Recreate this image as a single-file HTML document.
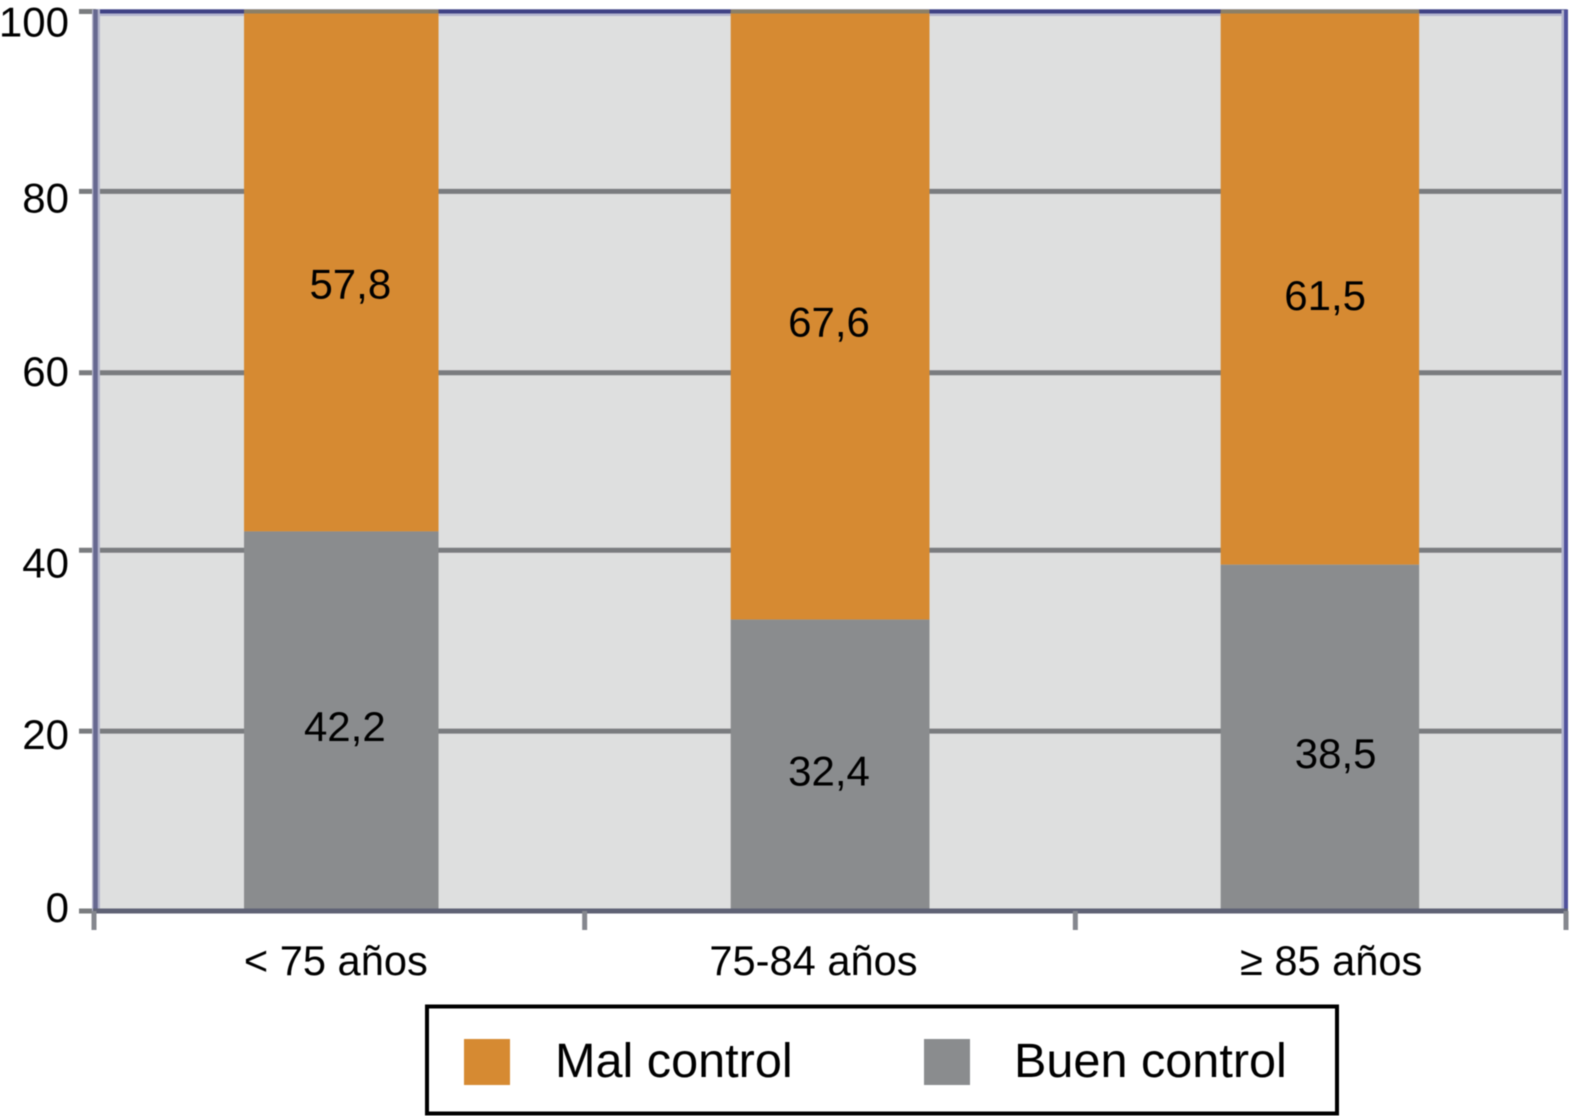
<!DOCTYPE html>
<html lang="es">
<head>
<meta charset="utf-8">
<title>Control por grupo de edad</title>
<style>
  html, body { margin: 0; padding: 0; background: #fff; }
  #chart { display: block; width: 1577px; height: 1116px; font-family: "Liberation Sans", sans-serif; filter: blur(0.45px); }
  text { fill: #000; }
</style>
</head>
<body>
<svg id="chart" xmlns="http://www.w3.org/2000/svg" width="1577" height="1116" viewBox="0 0 1577 1116">
  <rect x="96" y="11.5" width="1470" height="899.5" fill="#dedfdf"></rect>
  <g id="grid"></g>
  <g id="frame">
    <line x1="96" x2="1567" y1="12.5" y2="12.5" stroke="#b4b6cf" stroke-width="7"></line>
    <line x1="96" x2="1568" y1="11.5" y2="11.5" stroke="#3f4285" stroke-width="4"></line>
    <line x1="1564.5" x2="1564.5" y1="10" y2="911" stroke="#b4b6cf" stroke-width="6"></line>
    <line x1="1566" x2="1566" y1="10" y2="911" stroke="#50529c" stroke-width="4"></line>
  </g>
  <g id="bars"></g>
  <g id="axes"></g>
  <g id="labels"></g>
  <g>
    <rect x="427" y="1006.5" width="910" height="107" fill="#fff" stroke="#000" stroke-width="4"></rect>
    <rect x="464" y="1039" width="46" height="46" fill="#d68a32"></rect>
    <text x="555" y="1077" font-size="48.6">Mal control</text>
    <rect x="924" y="1039" width="46" height="46" fill="#8a8c8e"></rect>
    <text x="1014" y="1077" font-size="48.6">Buen control</text>
  </g>
</svg>
<script>
const categories = ['< 75 años', '75-84 años', '≥ 85 años'];
const buenControl = [42.2, 32.4, 38.5];
const malControl = [57.8, 67.6, 61.5];
const printedBuen = ['42,2', '32,4', '38,5'];
const printedMal = ['57,8', '67,6', '61,5'];
const yTicks = [0, 20, 40, 60, 80, 100];

const SVG_NS = 'http://www.w3.org/2000/svg';
const plot = { left: 96, right: 1565, top: 11.5, bottom: 911, yMax: 100 };
const barWidth = 198;
const bandStep = (plot.right - plot.left) / categories.length;
const COLORS = { mal: '#d68a32', buen: '#8a8c8e', grid: '#7a7c7f', axis: '#5f6275', tick: '#85878e', cap: '#8c7f66' };

function yScale(v) { return plot.bottom - (v / plot.yMax) * (plot.bottom - plot.top); }
function xCenter(i) { return plot.left + bandStep * (i + 0.5); }
function xBoundary(i) { return 94 + (1566 - 94) * i / categories.length; }

function shape(tag, attrs, parent) {
  const el = document.createElementNS(SVG_NS, tag);
  Object.keys(attrs).forEach(function (k) { el.setAttribute(k, attrs[k]); });
  parent.appendChild(el);
  return el;
}

const gridG = document.getElementById('grid');
const barsG = document.getElementById('bars');
const axesG = document.getElementById('axes');
const labelsG = document.getElementById('labels');

/* Hand-placement offsets of the source figure, relative to computed anchors */
const malNudge = [[9.5, 13], [-1.5, 7], [5, 8]];
const buenNudge = [[4, 6], [-1.5, 6], [15.5, 16]];
const catNudge = [-5, -17, 11];
const yLabelNudge = { 0: -3.5, 20: 3.5, 40: 12, 60: 0, 80: 6.5, 100: 10.5 };
const gridNudge = { 0: 0, 20: 0, 40: -1, 60: 1.5, 80: 0, 100: 0 };
const barInset = [[2.2, 1.3], [-0.8, 0], [-0.5, 0]];

yTicks.forEach(function (t) {
  const y = yScale(t) + gridNudge[t];
  if (t > 0 && t < 100) {
    const g = shape('line', { x1: plot.left, x2: plot.right, y1: y, y2: y, stroke: COLORS.grid, 'stroke-width': 5 }, gridG);
    
    
  }
  const tick = shape('line', { x1: 79, x2: plot.left, y1: y, y2: y, stroke: COLORS.grid, 'stroke-width': 5 }, axesG);
  
  
  const lab = shape('text', { x: 69, y: yScale(t) + yLabelNudge[t] + 14.5, 'text-anchor': 'end', 'font-size': 42 }, axesG);
  lab.textContent = String(t);
  
  
});

categories.forEach(function (c, i) {
  const cx = xCenter(i);
  const x = cx - barWidth / 2 + barInset[i][0];
  const w = barWidth - barInset[i][0] - barInset[i][1];
  const yB = yScale(buenControl[i]);
  const yM = yScale(buenControl[i] + malControl[i]);

  const mal = shape('rect', { x: x, y: yM, width: w, height: yB - yM, fill: COLORS.mal }, barsG);
  
  

  const buen = shape('rect', { x: x, y: yB, width: w, height: plot.bottom - yB, fill: COLORS.buen }, barsG);
  
  

  const cap = shape('line', { x1: x, x2: x + w, y1: yM, y2: yM, stroke: COLORS.cap, 'stroke-width': 4 }, barsG);
  
  

  const tMal = shape('text', { x: cx + malNudge[i][0], y: (yM + yB) / 2 + malNudge[i][1] + 14, 'text-anchor': 'middle', 'font-size': 42 }, labelsG);
  tMal.textContent = printedMal[i];
  
  

  const tBuen = shape('text', { x: cx + buenNudge[i][0], y: (yB + plot.bottom) / 2 + buenNudge[i][1] + 14, 'text-anchor': 'middle', 'font-size': 42 }, labelsG);
  tBuen.textContent = printedBuen[i];
  
  

  const tCat = shape('text', { x: cx + catNudge[i], y: 975, 'text-anchor': 'middle', 'font-size': 41.6 }, axesG);
  tCat.textContent = c;
  
  
});

/* Axis lines and category-boundary ticks */
const leftHalo = shape('line', { x1: 96, x2: 96, y1: 9.5, y2: 911, stroke: '#b4b5cc', 'stroke-width': 8 }, axesG);



const leftAxis = shape('line', { x1: 95.5, x2: 95.5, y1: 9.5, y2: 913, stroke: '#666890', 'stroke-width': 4.5 }, axesG);



const bottomAxis = shape('line', { x1: 93, x2: 1568, y1: plot.bottom, y2: plot.bottom, stroke: COLORS.axis, 'stroke-width': 5 }, axesG);



for (let i = 0; i <= categories.length; i++) {
  const tx = xBoundary(i);
  const xt = shape('line', { x1: tx, x2: tx, y1: plot.bottom, y2: 930, stroke: COLORS.tick, 'stroke-width': 5 }, axesG);
  
  
}
</script>
</body>
</html>
